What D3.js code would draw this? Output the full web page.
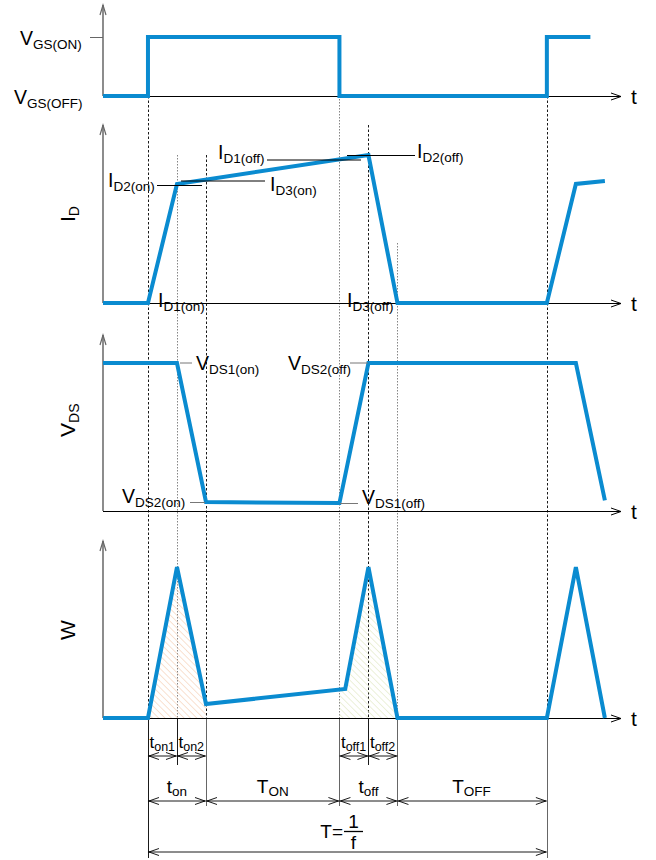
<!DOCTYPE html>
<html><head><meta charset="utf-8">
<script src="https://cdn.jsdelivr.net/npm/d3@7"></script>
<style>body{margin:0;background:#fff}svg{display:block;font-family:"Liberation Sans",Arial,sans-serif}</style>
</head><body><svg id="c" width="656" height="860"></svg>
<script>
// ---------- data ----------
const vgsTime  = [-1.55, 0, 0, 6.6, 6.6, 13.75, 13.75, 15.25];
const vgsValue = [0, 0, 64.8, 64.8, 0, 0, 64.8, 64.8];
const idTime   = [-1.55, 0, 1, 7.6, 8.6, 13.75, 14.75, 15.75];
const idValue  = [0, 0, 66.9, 83.1, 0, 0, 66.9, 68.5];
const vdsTime  = [-1.55, 1, 2, 6.6, 7.6, 14.75, 15.75];
const vdsValue = [84.1, 84.1, 5.1, 4.5, 84.1, 84.1, 6];
const wTime    = [-1.55, 0, 1, 2, 6.8, 7.6, 8.6, 13.75, 14.75, 15.75];
const wValue   = [0, 0, 85.3, 7.9, 16.4, 85.3, 0, 0, 85.3, 0];
const edgeTimes = [0, 1, 2, 6.6, 7.6, 8.6, 13.75];
const lossOnRange  = [0, 2];
const lossOffRange = [6.6, 8.6];
const row1Labels = [["t","on1",0],["t","on2",1],["t","off1",6.6],["t","off2",7.6]];
const row1Spans  = [[0,1],[1,2],[6.6,7.6],[7.6,8.6]];
const row2Labels = [["t","on",1],["T","ON",4.3],["t","off",7.6],["T","OFF",11.15]];
const row2Spans  = [[0,2],[2,6.6],[6.6,8.6],[8.6,13.75]];
const row3Span   = [0, 13.75];

// ---------- setup ----------
const svg = d3.select("#c");
const blue = "#0a8bd0";
const x = d3.scaleLinear().domain([-1.55, 16.34]).range([103, 622]);
const panels = {
  vgs: {base: 96,  top: 5},
  id:  {base: 303, top: 125},
  vds: {base: 511, top: 335},
  w:   {base: 718, top: 541}
};
for (const k in panels) {
  const p = panels[k];
  p.y = d3.scaleLinear().domain([0, 100]).range([p.base, p.top]);
}

const defs = svg.append("defs");
function hatch(id, color) {
  const pat = defs.append("pattern").attr("id", id).attr("patternUnits", "userSpaceOnUse")
    .attr("width", 4.5).attr("height", 4.5).attr("patternTransform", "rotate(-45)");
  pat.append("line").attr("x1", 0).attr("y1", 0).attr("x2", 0).attr("y2", 4.5)
    .attr("stroke", color).attr("stroke-width", 1);
}
hatch("hOn", "#f3c4a2");
hatch("hOff", "#d9e2b4");

// ---------- marker lines (behind) ----------
const markerStyle = [
  {top: 96,  dash: "2.5,2", col: "#000", bot: 858, solidFrom: 718},
  {top: 155, dash: "1.5,1.5", col: "#777", bot: 765, solidFrom: 718},
  {top: 155, dash: "2.5,2", col: "#000", bot: 806, solidFrom: 718},
  {top: 96,  dash: "1.5,1.5", col: "#777", bot: 806, solidFrom: 718},
  {top: 125, dash: "2.5,2", col: "#000", bot: 765, solidFrom: 718},
  {top: 243, dash: "1.5,1.5", col: "#777", bot: 806, solidFrom: 718},
  {top: 96,  dash: "2.5,2", col: "#000", bot: 858, solidFrom: 718}
];
const mk = svg.append("g");
edgeTimes.forEach((t, i) => {
  const s = markerStyle[i];
  const xx = Math.round(x(t)) + 0.5;
  mk.append("line").attr("x1", xx).attr("x2", xx).attr("y1", s.top).attr("y2", s.solidFrom)
    .attr("stroke", s.col).attr("stroke-width", 0.9).attr("stroke-dasharray", s.dash);
  mk.append("line").attr("x1", xx).attr("x2", xx).attr("y1", s.solidFrom).attr("y2", s.bot)
    .attr("stroke", i === 0 || i === 1 || i === 4 ? "#000" : "#555").attr("stroke-width", 0.9);
});

// ---------- hatched loss areas ----------
function interp(ts, vs, t) {
  for (let i = 0; i < ts.length - 1; i++) {
    if (t >= ts[i] && t <= ts[i + 1]) {
      if (ts[i + 1] === ts[i]) return vs[i + 1];
      return vs[i] + (vs[i + 1] - vs[i]) * (t - ts[i]) / (ts[i + 1] - ts[i]);
    }
  }
  return 0;
}
function lossPts(r) {
  const pts = [[r[0], interp(wTime, wValue, r[0])]];
  wTime.forEach((t, i) => { if (t > r[0] && t < r[1]) pts.push([t, wValue[i]]); });
  pts.push([r[1], interp(wTime, wValue, r[1])]);
  return pts;
}
const wy = panels.w.y;
const areaGen = d3.area().x(d => x(d[0])).y0(wy(0)).y1(d => wy(d[1]));
svg.append("path").attr("d", areaGen(lossPts(lossOnRange))).attr("fill", "url(#hOn)");
svg.append("path").attr("d", areaGen(lossPts(lossOffRange))).attr("fill", "url(#hOff)");

// ---------- axes ----------
function vArrow(g, xx, yy, col) {
  g.append("path").attr("d", `M${xx - 3},${yy + 10} L${xx},${yy} L${xx + 3},${yy + 10}`)
    .attr("fill", "none").attr("stroke", col).attr("stroke-width", 1.2);
}
const ax = svg.append("g");
for (const k in panels) {
  const p = panels[k];
  ax.append("line").attr("x1", 103).attr("x2", 103).attr("y1", p.base).attr("y2", p.top)
    .attr("stroke", "#808080").attr("stroke-width", 1.8);
  vArrow(ax, 103, p.top, "#666");
  ax.append("line").attr("x1", 103).attr("x2", 621).attr("y1", p.base + 0.5).attr("y2", p.base + 0.5)
    .attr("stroke", "#000").attr("stroke-width", 1);
  ax.append("path").attr("d", `M611,${p.base - 3} L621,${p.base + 0.5} L611,${p.base + 4}`)
    .attr("fill", "none").attr("stroke", "#000").attr("stroke-width", 1);
  ax.append("text").attr("x", 631).attr("y", p.base + 8).attr("font-size", 21).text("t");
}

// ---------- waveforms ----------
const lineGen = (py) => d3.line().x(d => x(d[0])).y(d => py(d[1]));
function wave(ts, vs, py) {
  svg.append("path").attr("d", lineGen(py)(ts.map((t, i) => [t, vs[i]])))
    .attr("fill", "none").attr("stroke", blue).attr("stroke-width", 4)
    .attr("stroke-linejoin", "miter").attr("stroke-linecap", "butt");
}
wave(vgsTime, vgsValue, panels.vgs.y);
wave(idTime, idValue, panels.id.y);
wave(vdsTime, vdsValue, panels.vds.y);
wave(wTime, wValue, panels.w.y);

// ---------- labels ----------
function lab(xx, yy, main, sub, opt = {}) {
  const ms = opt.ms || 19.5, ss = opt.ss || 13.5, anchor = opt.anchor || "start";
  const t = svg.append("text").attr("x", xx).attr("y", yy).attr("text-anchor", anchor)
    .attr("font-size", ms).attr("fill", "#000");
  if (opt.rot) t.attr("transform", `rotate(-90,${xx},${yy})`);
  t.append("tspan").text(main);
  t.append("tspan").attr("font-size", ss).attr("dy", opt.sdy || 4).text(sub);
  return t;
}
function leader(x1, x2, yy, col) {
  svg.append("line").attr("x1", x1).attr("x2", x2).attr("y1", yy).attr("y2", yy)
    .attr("stroke", col).attr("stroke-width", 1);
}
// VGS
lab(20, 45, "V", "GS(ON)");
lab(14, 104, "V", "GS(OFF)");
leader(90, 103, 37.5, "#666");
// ID
lab(108, 187, "I", "D2(on)");
lab(270, 191, "I", "D3(on)");
lab(218, 159, "I", "D1(off)");
lab(417, 158, "I", "D2(off)");
lab(158, 307, "I", "D1(on)");
lab(347, 307, "I", "D3(off)");
leader(157, 202, 185.5, "#000");
leader(181, 265, 181, "#000");
leader(267, 361, 160, "#000");
leader(347, 415, 155.5, "#000");
// VDS
lab(196, 370, "V", "DS1(on)");
lab(288, 370, "V", "DS2(off)");
lab(122, 503, "V", "DS2(on)");
lab(362, 504, "V", "DS1(off)");
leader(180, 192, 363, "#777");
leader(350, 368, 363, "#777");
leader(190, 205, 502.5, "#777");
leader(340, 358, 503.5, "#777");
// rotated y labels
lab(75, 222, "I", "D", {rot: true, ms: 21, ss: 14});
lab(75, 437, "V", "DS", {rot: true, ms: 21, ss: 14});
lab(75, 640, "W", "", {rot: true, ms: 21, ss: 14});

// ---------- bottom dimensions ----------
function dimArrow(t1, t2, yy) {
  const a = x(t1), b = x(t2);
  const g = svg.append("g").attr("fill", "none").attr("stroke", "#000").attr("stroke-width", 0.9);
  g.append("line").attr("x1", a).attr("x2", b).attr("y1", yy).attr("y2", yy);
  g.append("path").attr("d", `M${a + 11},${yy - 3.5} L${a + 1},${yy} L${a + 11},${yy + 3.5}`);
  g.append("path").attr("d", `M${b - 11},${yy - 3.5} L${b - 1},${yy} L${b - 11},${yy + 3.5}`);
}
row1Spans.forEach(s => dimArrow(s[0], s[1], 756));
row2Spans.forEach(s => dimArrow(s[0], s[1], 801));
dimArrow(row3Span[0], row3Span[1], 852);
row1Labels.forEach(l => lab(x(l[2]) + 1.5, 748, l[0], l[1], {ms: 17, ss: 12.5, sdy: 3}));
row2Labels.forEach(l => lab(x(l[2]), 793, l[0], l[1], {ms: 19, ss: 13.5, sdy: 3, anchor: "middle"}));
// T = 1/f
svg.append("text").attr("x", 343).attr("y", 838).attr("text-anchor", "end").attr("font-size", 19).text("T=");
svg.append("line").attr("x1", 344).attr("x2", 363).attr("y1", 831.5).attr("y2", 831.5).attr("stroke", "#000").attr("stroke-width", 1.3);
svg.append("text").attr("x", 353.5).attr("y", 828).attr("text-anchor", "middle").attr("font-size", 19).text("1");
svg.append("text").attr("x", 353.5).attr("y", 849).attr("text-anchor", "middle").attr("font-size", 19).text("f");
</script></body></html>
